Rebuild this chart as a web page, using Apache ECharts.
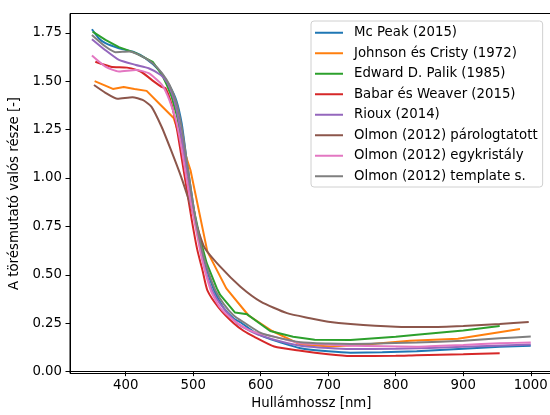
<!DOCTYPE html>
<html>
<head>
<meta charset="utf-8">
<script src="https://cdn.jsdelivr.net/npm/echarts@6/dist/echarts.min.js"></script>
<style>
	html,body{margin:0;padding:0;background:#fff}
	#chart{width:550px;height:415px}
</style>
</head>
<body>
<div id="chart"></div>
<script>
// adatok (hullámhossz nm, törésmutató valós része)
var names = ['Mc Peak (2015)', 'Johnson és Cristy (1972)', 'Edward D. Palik (1985)', 'Babar és Weaver (2015)',
	'Rioux (2014)', 'Olmon (2012) párologtatott', 'Olmon (2012) egykristály', 'Olmon (2012) template s.'];
var colors = ['#1f77b4', '#ff7f0e', '#2ca02c', '#d62728', '#9467bd', '#8c564b', '#e377c2', '#7f7f7f'];

var mcPeakX = [350, 360, 370, 390, 410, 429, 449, 464, 475, 483, 490, 495, 500, 505, 512, 520, 531, 545, 560, 572, 590, 604, 630, 659, 700, 733, 780, 831, 900, 954, 1000];
var mcPeakY = [1.768, 1.722, 1.696, 1.67, 1.653, 1.619, 1.558, 1.481, 1.40, 1.28, 1.10, 0.98, 0.86, 0.75, 0.63, 0.53, 0.42, 0.33, 0.275, 0.25, 0.205, 0.181, 0.15, 0.121, 0.105, 0.098, 0.10, 0.105, 0.118, 0.129, 0.134];

var jcX = [354, 368, 381, 397, 413, 431, 451, 471, 496, 521, 549, 582, 617, 659, 704, 756, 821, 892, 984];
var jcY = [1.50, 1.48, 1.46, 1.47, 1.46, 1.45, 1.38, 1.31, 1.04, 0.62, 0.43, 0.29, 0.21, 0.14, 0.13, 0.14, 0.16, 0.17, 0.22];

var palikX = [351, 370, 390, 415, 440, 454, 461, 468, 476, 484, 492, 500, 510, 520, 535, 540, 562, 580, 614, 648, 680, 733, 800, 831, 900, 954];
var palikY = [1.756, 1.713, 1.676, 1.645, 1.60, 1.532, 1.48, 1.42, 1.32, 1.17, 1.0, 0.85, 0.69, 0.56, 0.43, 0.396, 0.305, 0.296, 0.21, 0.18, 0.165, 0.164, 0.18, 0.19, 0.212, 0.236];

var babarX = [355, 378, 402, 422, 442, 454, 459, 468, 476, 484, 490, 498, 506, 514, 521, 538, 560, 575, 590, 620, 659, 700, 733, 800, 831, 900, 954];
var babarY = [1.60, 1.575, 1.57, 1.55, 1.498, 1.469, 1.464, 1.38, 1.25, 1.08, 0.95, 0.78, 0.63, 0.52, 0.42, 0.33, 0.25, 0.21, 0.181, 0.13, 0.108, 0.09, 0.081, 0.082, 0.085, 0.09, 0.095];

var riouxX = [350, 370, 390, 415, 434, 452, 462, 472, 480, 488, 495, 503, 512, 520, 528, 540, 565, 590, 620, 659, 700, 733, 800, 900, 1000];
var riouxY = [1.717, 1.66, 1.61, 1.584, 1.567, 1.532, 1.49, 1.40, 1.27, 1.10, 0.95, 0.78, 0.61, 0.50, 0.42, 0.35, 0.25, 0.20, 0.165, 0.134, 0.122, 0.117, 0.118, 0.128, 0.140];

var olmonEvX = [353, 370, 388, 410, 425, 438, 453, 467, 482, 496, 516, 540, 570, 600, 639, 673, 700, 733, 800, 850, 900, 954, 997];
var olmonEvY = [1.48, 1.44, 1.409, 1.417, 1.403, 1.369, 1.266, 1.145, 1.007, 0.86, 0.646, 0.542, 0.439, 0.362, 0.302, 0.276, 0.258, 0.246, 0.232, 0.23, 0.236, 0.246, 0.257];

var olmonScX = [350, 370, 390, 415, 434, 454, 465, 475, 483, 490, 497, 505, 513, 526, 540, 560, 580, 600, 620, 659, 700, 733, 831, 900, 954, 1000];
var olmonScY = [1.632, 1.575, 1.55, 1.558, 1.541, 1.48, 1.40, 1.29, 1.15, 1.0, 0.86, 0.72, 0.58, 0.42, 0.33, 0.265, 0.22, 0.195, 0.181, 0.147, 0.14, 0.134, 0.129, 0.138, 0.147, 0.150];

var olmonTsX = [350, 370, 385, 405, 425, 440, 454, 465, 475, 483, 490, 497, 505, 515, 525, 533, 545, 560, 577, 600, 619, 659, 700, 733, 831, 900, 954, 1000];
var olmonTsY = [1.739, 1.679, 1.65, 1.653, 1.627, 1.593, 1.541, 1.48, 1.39, 1.26, 1.10, 0.93, 0.76, 0.60, 0.49, 0.42, 0.35, 0.29, 0.25, 0.20, 0.181, 0.152, 0.145, 0.143, 0.150, 0.16, 0.172, 0.181];

var xTicks = [400, 500, 600, 700, 800, 900, 1000];
var yTicks = [0, 0.25, 0.5, 0.75, 1.0, 1.25, 1.5, 1.75];

var xs = [mcPeakX, jcX, palikX, babarX, riouxX, olmonEvX, olmonScX, olmonTsX];
var ys = [mcPeakY, jcY, palikY, babarY, riouxY, olmonEvY, olmonScY, olmonTsY];
var smoothFlags = [true, false, false, true, true, true, true, true];

function zip(a, b) {
	var out = [];
	for (var i = 0; i < a.length; i++) out.push([a[i], b[i]]);
	return out;
}

var font = 'DejaVu Sans';
var fs = 13.3;
var series = [];
for (var i = 0; i < names.length; i++) {
	series.push({
		name: names[i],
		type: 'line',
		data: zip(xs[i], ys[i]),
		symbol: 'none',
		smooth: smoothFlags[i] ? 0.2 : false,
		lineStyle: {width: 2, color: colors[i]},
		itemStyle: {color: colors[i]},
		emphasis: {disabled: true},
		animation: false
	});
}

var myChart = echarts.init(document.getElementById('chart'));
var option = {
	animation: false,
	textStyle: {fontFamily: font},
	grid: {
		left: 70, top: 13.5, bottom: 41.5, right: -2.7,
		outerBoundsMode: 'none',
		show: true, borderColor: '#000', borderWidth: 1
	},
	legend: {
		orient: 'vertical',
		left: 311, top: 21,
		icon: 'rect',
		itemWidth: 28, itemHeight: 2,
		itemGap: 5,
		padding: [4, 5, 3, 4],
		backgroundColor: 'rgba(255,255,255,0.8)',
		borderColor: '#d0d0d0', borderWidth: 1, borderRadius: 3,
		textStyle: {fontFamily: font, fontSize: fs, color: '#000', lineHeight: 15.5, padding: [0, 0, 0, 6]},
		data: names
	},
	xAxis: {
		type: 'value',
		min: 317.5, max: 1032.5,
		name: 'Hullámhossz [nm]',
		nameLocation: 'middle',
		nameGap: 24,
		nameTextStyle: {fontFamily: font, fontSize: fs, color: '#000'},
		axisLine: {lineStyle: {color: '#000', width: 1}},
		axisTick: {show: true, length: 4.5, lineStyle: {color: '#000'}, customValues: xTicks},
		axisLabel: {fontFamily: font, fontSize: fs, color: '#000', margin: 6, customValues: xTicks,
			formatter: function (v) { return String(v); }},
		splitLine: {show: false}
	},
	yAxis: {
		type: 'value',
		min: -0.0095, max: 1.8495,
		name: 'A törésmutató valós része [-]',
		nameLocation: 'middle',
		nameGap: 48,
		nameTextStyle: {fontFamily: font, fontSize: fs, color: '#000'},
		axisLine: {show: true, lineStyle: {color: '#000', width: 1}},
		axisTick: {show: true, length: 4.5, lineStyle: {color: '#000'}, customValues: yTicks},
		axisLabel: {fontFamily: font, fontSize: fs, color: '#000', margin: 8, customValues: yTicks,
			formatter: function (v) { return v.toFixed(2); }},
		splitLine: {show: false}
	},
	series: series
};
myChart.setOption(option);
</script>
</body>
</html>
